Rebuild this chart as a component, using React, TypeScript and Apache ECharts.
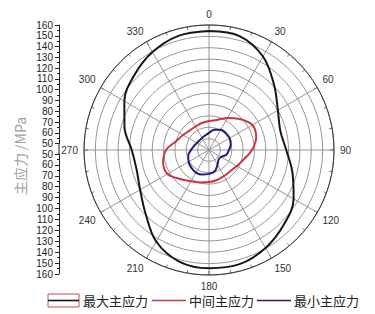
import React, { useEffect, useRef } from "react";
import * as echarts from "echarts";

// Angles (degrees, clockwise from top)
const angles = [0, 15, 30, 45, 60, 75, 90, 105, 120, 135, 150, 165, 180, 195, 210, 225, 240, 255, 270, 285, 300, 315, 330, 345];
// 最大主应力 (MPa)
const maxStress = [154.7, 153.8, 145, 131, 120, 115, 118, 126, 136, 143, 149.5, 154, 154, 151.6, 143, 129, 120, 116, 118, 127, 136, 143, 149.5, 154];
// 中间主应力 (MPa)
const midStress = [75.5, 77.3, 82.6, 88.5, 94, 93, 87.8, 81.7, 78.2, 76.4, 76.4, 77.3, 78.2, 79.5, 81.7, 86, 92.2, 91.8, 87.8, 80, 76.4, 74.2, 73.8, 74.6];
// 最小主应力 (MPa)
const minStress = [65, 68.5, 70.7, 71, 71, 69.8, 67.6, 65.8, 62.3, 61.9, 65, 69.4, 71, 72.4, 72.9, 72, 70.7, 68.9, 65.8, 63.6, 62.3, 61.9, 62.3, 63.2];

const seriesNames = ["最大主应力", "中间主应力", "最小主应力"];
const seriesColors = ["#15151f", "#c8383c", "#1c1f78"];
const axisTitle = "主应力 /MPa";

const toPolar = (vals: number[]) => {
  const d = angles.map((a, i) => [vals[i], a]);
  d.push([vals[0], 360]);
  return d;
};

export default function App() {
  const ref = useRef<HTMLDivElement>(null);
  useEffect(() => {
    document.body.style.margin = "0";
    const chart = echarts.init(ref.current!, null, { renderer: "svg" });
    const leftAxisCommon = {
      type: "value",
      min: 50,
      max: 160,
      interval: 10,
      position: "left",
      axisLine: { show: true, lineStyle: { color: "#222", width: 1 } },
      axisTick: { show: true, length: 4, lineStyle: { color: "#222" } },
      minorTick: { show: true, splitNumber: 2, length: 2, lineStyle: { color: "#222" } },
      splitLine: { show: false },
      axisLabel: { color: "#222", fontSize: 10, margin: 6, fontFamily: "Liberation Sans, Arial, sans-serif" },
    };
    const legendFont = { verticalAlign: "middle", fontSize: 13, fill: "#222", fontFamily: "Noto Sans CJK SC, sans-serif" };
    const option: any = {
      animation: false,
      polar: { center: [209, 150], radius: 125 },
      angleAxis: {
        type: "value",
        min: 0,
        max: 360,
        interval: 30,
        startAngle: 90,
        clockwise: true,
        axisLine: { show: true, lineStyle: { color: "#333", width: 1 } },
        axisTick: { show: true, inside: true, length: 4, lineStyle: { color: "#555" } },
        minorTick: { show: true, splitNumber: 3, length: 3, lineStyle: { color: "#777" } },
        splitLine: { show: true, lineStyle: { color: "#8a8a8a", width: 0.9 } },
        axisLabel: {
          color: "#333",
          fontSize: 10,
          margin: 6,
          fontFamily: "Liberation Sans, Arial, sans-serif",
          formatter: (v: number) => (v === 360 ? "" : String(v)),
        },
      },
      radiusAxis: {
        type: "value",
        min: 50,
        max: 160,
        interval: 10,
        axisLine: { show: false },
        axisTick: { show: false },
        axisLabel: { show: false },
        splitLine: { show: true, lineStyle: { color: "#8a8a8a", width: 0.9 } },
      },
      grid: [
        { left: 59, width: 10, top: 25, height: 118.6 },
        { left: 59, width: 10, top: 154, height: 120 },
      ],
      xAxis: [
        { type: "value", gridIndex: 0, show: false },
        { type: "value", gridIndex: 1, show: false },
      ],
      yAxis: [
        { ...leftAxisCommon, gridIndex: 0 },
        { ...leftAxisCommon, gridIndex: 1, inverse: true },
      ],
      series: [maxStress, midStress, minStress].map((vals, i) => ({
        type: "line",
        name: seriesNames[i],
        coordinateSystem: "polar",
        data: toPolar(vals),
        showSymbol: false,
        smooth: 0.35,
        lineStyle: { color: seriesColors[i], width: 2 },
        z: 5,
      })),
      graphic: [
        { type: "line", shape: { x1: 59, y1: 143.6, x2: 59, y2: 154 }, style: { stroke: "#222", lineWidth: 1 } },
        {
          type: "text",
          x: 20,
          y: 156,
          rotation: Math.PI / 2,
          style: {
            text: axisTitle,
            align: "center",
            verticalAlign: "middle",
            fontSize: 14,
            fill: "#a0a0a0",
            fontFamily: "Noto Sans CJK SC, sans-serif",
          },
        },
        { type: "rect", shape: { x: 48, y: 294, width: 31, height: 13 }, style: { fill: "none", stroke: "#c0504d", lineWidth: 1 } },
        { type: "line", shape: { x1: 48, y1: 300.5, x2: 79, y2: 300.5 }, style: { stroke: seriesColors[0], lineWidth: 1.6 } },
        { type: "text", x: 83, y: 300.5, style: { text: seriesNames[0], ...legendFont } },
        { type: "line", shape: { x1: 152, y1: 300.5, x2: 186, y2: 300.5 }, style: { stroke: seriesColors[1], lineWidth: 1.6 } },
        { type: "text", x: 189, y: 300.5, style: { text: seriesNames[1], ...legendFont } },
        { type: "line", shape: { x1: 257, y1: 300.5, x2: 291, y2: 300.5 }, style: { stroke: seriesColors[2], lineWidth: 1.6 } },
        { type: "text", x: 294, y: 300.5, style: { text: seriesNames[2], ...legendFont } },
      ],
    };
    chart.setOption(option);
    return () => chart.dispose();
  }, []);
  return <div ref={ref} style={{ width: 375, height: 314 }} />;
}
